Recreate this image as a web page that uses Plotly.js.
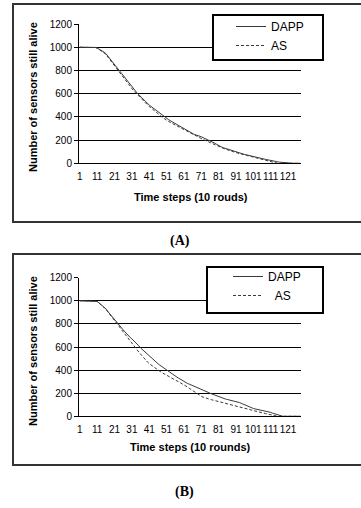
<!DOCTYPE html>
<html>
<head>
<meta charset="utf-8">
<script src="https://cdn.plot.ly/plotly-3.0.1.min.js"></script>
<style>
  html, body { margin: 0; padding: 0; background: #fff; }
  #chart { width: 361px; height: 508px; }
</style>
</head>
<body>
<div id="chart"></div>
<script>
// Time steps (categories)
const steps = [1,2,3,4,5,6,7,8,9,10,11,12,13,14,15,16,17,18,19,20,21,22,23,24,25,26,27,28,29,30,
31,32,33,34,35,36,37,38,39,40,41,42,43,44,45,46,47,48,49,50,51,52,53,54,55,56,57,58,59,60,
61,62,63,64,65,66,67,68,69,70,71,72,73,74,75,76,77,78,79,80,81,82,83,84,85,86,87,88,89,90,
91,92,93,94,95,96,97,98,99,100,101,102,103,104,105,106,107,108,109,110,111,112,113,114,115,116,117,118,119,120,
121,122,123,124,125,126,127,128];

const tickLabelVals = [1,11,21,31,41,51,61,71,81,91,101,111,121];
const tickLabels = ['1','11','21','31','41','51','61','71','81','91','101','111','121'];

// Panel (A)
const dappA = [1000,1000,1000,1000,1000,1000,1000,1000,1000,998,
993,985,975,966,957,945,925,904,885,866,
849,831,812,794,776,757,737,717,695,673,
654,635,620,605,590,574,558,544,530,515,
502,490,478,466,455,443,430,418,406,396,
387,378,368,359,350,342,335,328,319,309,
300,289,278,268,261,254,248,244,240,236,
229,221,214,209,204,198,189,181,172,162,
152,143,138,133,128,122,116,110,106,101,
97,92,88,83,80,76,73,69,64,60,
57,53,50,47,43,40,37,34,31,27,
23,20,18,16,13,10,8,6,4,3,
2,1,0,0,0,0,0,0];

const asA = [1000,1000,1000,1000,1000,1000,1000,1000,1000,997,
991,982,972,962,950,938,918,898,878,858,
840,822,803,785,765,745,724,703,682,662,
643,625,610,594,578,561,545,530,516,502,
489,477,466,456,444,430,416,402,390,378,
370,362,353,345,337,328,320,311,303,295,
289,281,272,263,256,249,241,233,225,218,
213,206,199,192,185,177,170,162,155,149,
143,137,133,127,122,116,111,106,101,96,
92,88,84,80,77,73,69,65,61,57,
53,49,45,41,37,33,29,25,20,15,
10,6,3,1,0,0,0,0,0,0,
0,0,0,0,0,0,0,0];

// Panel (B)
const dappB = [1000,1000,1000,1000,1000,1000,1000,1000,1000,998,
994,983,970,958,945,930,910,891,872,855,
839,823,804,784,765,748,731,712,697,683,
670,656,643,627,610,592,578,563,549,534,
519,505,492,480,468,456,444,433,421,410,
399,389,379,369,359,348,339,330,320,312,
303,293,285,279,273,266,259,252,246,240,
233,226,219,213,207,200,194,187,181,174,
167,161,157,153,149,146,143,140,136,132,
128,124,119,113,106,98,90,82,77,72,
68,64,61,59,56,52,47,43,40,38,
34,28,23,18,11,5,1,0,0,0,
0,0,0,0,0,0,0,0];

const asB = [1000,1000,1000,1000,1000,1000,1000,1000,1000,998,
993,982,969,956,942,927,907,888,870,850,
828,806,784,764,745,726,705,686,667,648,
628,609,590,575,556,538,518,500,485,470,
456,444,432,420,409,400,391,381,372,363,
353,344,336,328,320,313,306,299,291,283,
274,264,254,243,232,221,211,201,192,183,
174,166,160,155,151,147,143,139,136,132,
129,125,122,118,115,111,107,103,99,94,
89,84,79,74,70,66,62,58,54,49,
45,42,39,36,33,30,27,24,20,16,
13,9,6,3,0,0,0,0,0,0,
0,0,0,0,0,0,0,0];

const boundaryTicks = [0.5,10.5,20.5,30.5,40.5,50.5,60.5,70.5,80.5,90.5,100.5,110.5,120.5,128.5];

const W = 361, H = 508;
const px = v => v / W;
const py = v => (H - v) / H;

const FONT = 'Arial, "Liberation Sans", sans-serif';
const lineCol = '#3a3a3a';

const traces = [
  {x: steps, y: dappA, type: 'scatter', mode: 'lines', name: 'DAPP', xaxis: 'x', yaxis: 'y',
   line: {color: lineCol, width: 1}, legend: 'legend'},
  {x: steps, y: asA, type: 'scatter', mode: 'lines', name: 'AS', xaxis: 'x', yaxis: 'y',
   line: {color: lineCol, width: 1, dash: '3px,2px'}, legend: 'legend'},
  {x: steps, y: dappB, type: 'scatter', mode: 'lines', name: 'DAPP', xaxis: 'x2', yaxis: 'y2',
   line: {color: lineCol, width: 1}, legend: 'legend2'},
  {x: steps, y: asB, type: 'scatter', mode: 'lines', name: '&nbsp;&nbsp;AS', xaxis: 'x2', yaxis: 'y2',
   line: {color: lineCol, width: 1, dash: '3px,2px'}, legend: 'legend2'}
];

const xDomain = [px(79), px(301)];

function xLabelAxis(anchor) {
  return {
    domain: xDomain, anchor: anchor, range: [0.5, 128.5],
    tickmode: 'array', tickvals: tickLabelVals, ticktext: tickLabels,
    tickangle: 0,
    ticks: '', showgrid: false, zeroline: false,
    showline: true, linecolor: '#000', linewidth: 1,
    tickfont: {family: FONT, size: 10, color: '#000'},
    ticklabelstandoff: 4
  };
}
function xTickAxis(over, anchor) {
  return {
    domain: xDomain, anchor: anchor, overlaying: over, range: [0.5, 128.5],
    tickmode: 'array', tickvals: boundaryTicks, showticklabels: false,
    ticks: 'outside', ticklen: 4, tickcolor: '#000', tickwidth: 1,
    showgrid: false, zeroline: false, showline: false
  };
}
function yAxis(anchor, dom) {
  return {
    domain: dom, anchor: anchor, range: [0, 1200],
    tickmode: 'linear', tick0: 0, dtick: 200,
    showgrid: true, gridcolor: '#000', gridwidth: 1,
    zeroline: false, showline: true, linecolor: '#000', linewidth: 1,
    ticks: 'outside', ticklen: 4, tickcolor: '#000',
    tickfont: {family: FONT, size: 10, color: '#000'}
  };
}

const layout = {
  width: W, height: H,
  margin: {l: 0, r: 0, t: 0, b: 0},
  paper_bgcolor: '#fff', plot_bgcolor: '#fff',
  showlegend: true,
  xaxis: xLabelAxis('y'),
  yaxis: yAxis('x', [py(163.3), py(24)]),
  xaxis2: xLabelAxis('y2'),
  yaxis2: yAxis('x2', [py(416.3), py(277.7)]),
  xaxis3: xTickAxis('x', 'y'),
  xaxis4: xTickAxis('x2', 'y2'),
  legend: {
    x: px(231), y: py(12), xanchor: 'left', yanchor: 'top',
    bgcolor: 'rgba(0,0,0,0)', borderwidth: 0,
    font: {family: FONT, size: 12, color: '#000'}
  },
  legend2: {
    x: px(228), y: py(262), xanchor: 'left', yanchor: 'top',
    bgcolor: 'rgba(0,0,0,0)', borderwidth: 0, tracegroupgap: 0,
    font: {family: FONT, size: 12, color: '#000'}
  },
  shapes: [
    {type: 'rect', xref: 'paper', yref: 'paper', x0: px(13), x1: px(368), y0: py(222), y1: py(4),
     line: {color: '#333', width: 2}, fillcolor: 'rgba(0,0,0,0)', layer: 'below'},
    {type: 'rect', xref: 'paper', yref: 'paper', x0: px(13), x1: px(368), y0: py(465), y1: py(254),
     line: {color: '#333', width: 2}, fillcolor: 'rgba(0,0,0,0)', layer: 'below'},
    {type: 'rect', xref: 'paper', yref: 'paper', x0: px(213), x1: px(323), y0: py(60), y1: py(15),
     line: {color: '#000', width: 2}, fillcolor: '#fff', layer: 'above'},
    {type: 'rect', xref: 'paper', yref: 'paper', x0: px(207), x1: px(323), y0: py(313), y1: py(267),
     line: {color: '#000', width: 2}, fillcolor: '#fff', layer: 'above'}
  ],
  annotations: [
    {text: '<b>Time steps (10 rouds)</b>', xref: 'paper', yref: 'paper', x: px(191), y: py(197),
     showarrow: false, font: {family: FONT, size: 11, color: '#000'}, xanchor: 'center', yanchor: 'middle'},
    {text: '<b>Time steps (10 rounds)</b>', xref: 'paper', yref: 'paper', x: px(190), y: py(447),
     showarrow: false, font: {family: FONT, size: 11, color: '#000'}, xanchor: 'center', yanchor: 'middle'},
    {text: '<b>Number of sensors still alive</b>', xref: 'paper', yref: 'paper', x: px(33), y: py(97),
     textangle: -90, showarrow: false, font: {family: FONT, size: 11, color: '#000'}, xanchor: 'center', yanchor: 'middle'},
    {text: '<b>Number of sensors still alive</b>', xref: 'paper', yref: 'paper', x: px(33), y: py(351),
     textangle: -90, showarrow: false, font: {family: FONT, size: 11, color: '#000'}, xanchor: 'center', yanchor: 'middle'},
    {text: '<b>(A)</b>', xref: 'paper', yref: 'paper', x: px(180), y: py(241),
     showarrow: false, font: {family: '"Liberation Serif", "Times New Roman", serif', size: 14, color: '#000'}, xanchor: 'center', yanchor: 'middle'},
    {text: '<b>(B)</b>', xref: 'paper', yref: 'paper', x: px(184), y: py(492),
     showarrow: false, font: {family: '"Liberation Serif", "Times New Roman", serif', size: 14, color: '#000'}, xanchor: 'center', yanchor: 'middle'}
  ]
};

Plotly.newPlot('chart', traces, layout, {staticPlot: true, displayModeBar: false});
</script>
</body>
</html>
